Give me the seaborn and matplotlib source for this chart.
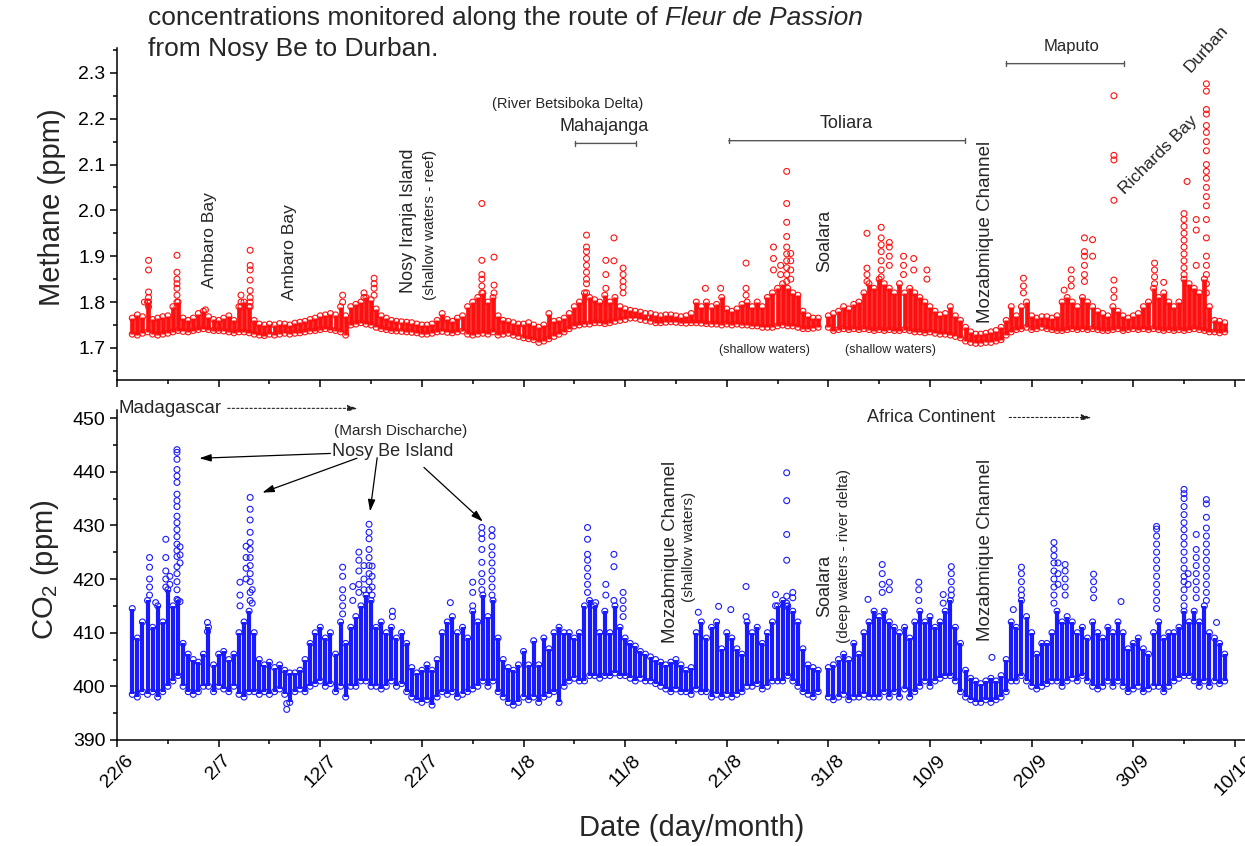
import numpy as np
import pandas as pd
import matplotlib
matplotlib.use("Agg")
import matplotlib.pyplot as plt
from matplotlib.ticker import MultipleLocator
import seaborn as sns

# x axis = days counted from 22 June
date_ticks = [0, 10, 20, 30, 40, 50, 60, 70, 80, 90, 100, 110]
date_labels = ["22/6", "2/7", "12/7", "22/7", "1/8", "11/8",
               "21/8", "31/8", "10/9", "20/9", "30/9", "10/10"]

# background band read every half day (day 1.5 ... 109.0), nan = no data
band_days = np.arange(1.5, 109.01, 0.5)

ch4_low = [
    1.730, 1.728, 1.732, 1.735, 1.730, 1.728, 1.730, 1.732, 1.735, 1.738,
    1.736, 1.735, 1.738, 1.740, 1.742, 1.740, 1.738, 1.738, 1.737, 1.735,
    1.733, 1.735, 1.735, 1.733, 1.730, 1.728, 1.727, 1.730, 1.728, 1.730,
    1.732, 1.730, 1.732, 1.733, 1.735, 1.737, 1.738, 1.740, 1.742, 1.740,
    1.738, 1.735, 1.728, 1.750, 1.752, 1.755, 1.752, 1.750, 1.745, 1.742,
    1.740, 1.738, 1.737, 1.736, 1.735, 1.734, 1.733, 1.730, 1.730, 1.732,
    1.735, 1.736, 1.734, 1.733, 1.735, 1.737, 1.730, 1.728, 1.730, 1.732,
    1.730, 1.735, 1.728, 1.730, 1.732, 1.728, 1.725, 1.722, 1.720, 1.718,
    1.712, 1.715, 1.720, 1.725, 1.730, 1.735, 1.742, 1.748, 1.750, 1.752,
    1.752, 1.755, 1.755, 1.753, 1.755, 1.758, 1.760, 1.762, 1.765, 1.765,
    1.762, 1.760, 1.758, 1.755, 1.755, 1.756, 1.757, 1.756, 1.755, 1.754,
    1.755, 1.755, 1.754, 1.753, 1.752, 1.752, 1.750, 1.752, 1.750, 1.752,
    1.750, 1.750, 1.748, 1.748, 1.745, 1.745, 1.745, 1.748, 1.750, 1.748,
    1.748, 1.745, 1.742, 1.742, 1.743, 1.745, np.nan, 1.745, 1.738, 1.740,
    1.742, 1.740, 1.742, 1.740, 1.742, 1.740, 1.738, 1.740, 1.738, 1.740,
    1.738, 1.738, 1.740, 1.738, 1.735, 1.735, 1.733, 1.735, 1.732, 1.730,
    1.730, 1.728, 1.725, 1.722, 1.715, 1.712, 1.710, 1.710, 1.712, 1.712,
    1.715, 1.718, 1.728, 1.735, 1.740, 1.742, 1.745, 1.740, 1.742, 1.745,
    1.742, 1.740, 1.738, 1.738, 1.740, 1.742, 1.740, 1.742, 1.740, 1.742,
    1.740, 1.738, 1.738, 1.740, 1.742, 1.738, 1.740, 1.742, 1.740, 1.742,
    1.740, 1.742, 1.740, 1.738, 1.740, 1.738, 1.740, 1.738, 1.740, 1.742,
    1.740, 1.738, 1.735, 1.735, 1.733, 1.735]
ch4_high = [
    1.765, 1.772, 1.768, 1.800, 1.762, 1.765, 1.768, 1.770, 1.790, 1.800,
    1.765, 1.760, 1.765, 1.775, 1.780, 1.768, 1.762, 1.760, 1.765, 1.770,
    1.760, 1.790, 1.800, 1.790, 1.760, 1.752, 1.750, 1.752, 1.750, 1.753,
    1.752, 1.750, 1.754, 1.756, 1.758, 1.762, 1.765, 1.770, 1.772, 1.775,
    1.772, 1.790, 1.770, 1.790, 1.795, 1.800, 1.810, 1.805, 1.785, 1.770,
    1.765, 1.760, 1.758, 1.757, 1.756, 1.755, 1.752, 1.750, 1.750, 1.752,
    1.760, 1.775, 1.762, 1.758, 1.765, 1.770, 1.790, 1.800, 1.810, 1.820,
    1.800, 1.810, 1.770, 1.760, 1.758, 1.755, 1.752, 1.752, 1.755, 1.750,
    1.745, 1.750, 1.775, 1.758, 1.760, 1.765, 1.775, 1.790, 1.800, 1.820,
    1.810, 1.805, 1.800, 1.815, 1.800, 1.810, 1.790, 1.785, 1.782, 1.780,
    1.778, 1.775, 1.775, 1.772, 1.770, 1.772, 1.772, 1.770, 1.768, 1.770,
    1.775, 1.800, 1.790, 1.800, 1.790, 1.795, 1.810, 1.785, 1.780, 1.785,
    1.795, 1.800, 1.790, 1.800, 1.790, 1.810, 1.820, 1.830, 1.840, 1.830,
    1.820, 1.815, 1.780, 1.770, 1.765, 1.765, np.nan, 1.770, 1.775, 1.780,
    1.790, 1.785, 1.795, 1.800, 1.820, 1.840, 1.830, 1.850, 1.840, 1.830,
    1.820, 1.840, 1.820, 1.830, 1.820, 1.810, 1.800, 1.790, 1.780, 1.772,
    1.775, 1.790, 1.770, 1.760, 1.745, 1.735, 1.730, 1.730, 1.732, 1.735,
    1.738, 1.745, 1.760, 1.790, 1.770, 1.790, 1.800, 1.770, 1.765, 1.768,
    1.768, 1.765, 1.770, 1.800, 1.810, 1.800, 1.790, 1.810, 1.800, 1.790,
    1.780, 1.775, 1.770, 1.790, 1.780, 1.770, 1.765, 1.770, 1.775, 1.790,
    1.800, 1.830, 1.810, 1.820, 1.800, 1.790, 1.800, 1.850, 1.840, 1.830,
    1.820, 1.850, 1.790, 1.760, 1.758, 1.755]

co2_low = [
    398.5, 398.0, 399, 398.5, 399, 398, 399, 400, 401, 402,
    400, 399, 398.5, 399, 400, 400, 399, 400, 399.5, 399,
    400, 398.5, 398, 399, 399, 398.5, 399, 398.5, 399, 399.5,
    398.5, 397, 399, 399.5, 399, 400, 400.5, 401, 400, 400.5,
    399, 400, 398, 400, 400, 401, 401, 400, 400, 399.5,
    400, 401, 400, 400.5, 399, 398, 397.5, 397, 397.5, 396.5,
    398, 399, 398.5, 399, 398, 398.5, 399, 399.5, 400, 401,
    400, 401, 399, 398, 397, 396.5, 397, 398, 397.5, 398,
    397, 398, 398.5, 399, 397, 400, 401, 401.5, 401, 401,
    402, 402, 401.5, 402, 402, 402.5, 402, 402, 401.5, 401,
    401.5, 401, 401, 400.5, 400, 399.5, 399, 399.5, 399, 399,
    398.5, 399.5, 399, 399, 398, 398.5, 398, 398.5, 398, 398.5,
    399, 400, 400, 400.5, 399.5, 400, 401, 401, 401, 402,
    401, 400, 399, 398.5, 398, 399, np.nan, 398, 397.5, 398,
    398.5, 397.5, 398, 398, 398.5, 398, 398, 398, 399, 398,
    399, 398, 399.5, 398, 399, 400, 401, 400, 401, 401.5,
    402, 402, 401, 399, 398, 397.5, 397, 397, 397.5, 397,
    397.5, 398, 399, 401, 401, 402, 401, 400, 399.5, 400,
    400.5, 401, 401, 400, 401, 401.5, 401, 402, 401, 400,
    399.5, 400, 401, 400, 401, 400, 399, 399.5, 400, 399,
    399.5, 400, 400, 399, 400, 401, 401.5, 402, 402, 401,
    400, 401, 400, 401, 400.5, 401]
co2_high = [
    414.5, 409, 412, 416, 411, 415, 412, 418, 415, 416,
    408, 406, 405, 404.5, 406, 411, 404, 406, 406.5, 405,
    406, 410, 412, 414, 410, 405, 404, 404.5, 403.5, 404,
    403, 402.5, 402.5, 403, 405, 408, 410, 411, 409, 410,
    406, 412, 408, 411, 413, 415, 417, 416, 411, 412,
    410, 411, 409, 410, 408, 403.5, 402.5, 403, 404, 403,
    405, 410, 412, 413, 410, 411, 409, 414, 412, 417,
    413, 416, 409, 405, 403.5, 403, 404, 406.5, 404, 408.5,
    404, 409, 407, 410, 411, 410, 410, 409, 410, 415,
    416, 415, 410, 414, 410, 415, 411, 409, 408, 407.5,
    406.5, 406, 405.5, 405, 404.5, 404, 404.5, 405, 404, 403,
    403.5, 410, 412, 409, 411, 412, 407, 410, 409, 407,
    406, 412, 410, 411, 408, 410, 412, 415, 416, 415,
    414, 412, 407, 404, 403.5, 403, np.nan, 403.5, 404, 405,
    406, 405, 408, 406, 410, 412, 414, 413, 414, 412,
    411, 410, 411, 409, 412, 414, 412, 413, 411, 412,
    414, 416, 411, 408, 403, 401.5, 401, 400.5, 401, 401.5,
    401, 402, 405, 412, 411, 416, 413, 410, 406, 408,
    408, 410, 414, 412, 413, 412, 410, 411, 409, 412,
    410, 409, 411, 410, 412, 410, 407, 408, 409, 407,
    406, 410, 412, 409, 410, 410, 411, 414, 412, 414,
    412, 415, 410, 409, 408, 406]

# isolated high readings (columns of points above the band)
ch4_peak_days = [2.7, 3.1, 5.9, 8.7, 12.2, 13.1, 22.2, 24.3, 25.3, 35.9,
                 37.1, 46.2, 48.1, 48.9, 49.8, 57.9, 59.4, 61.9, 64.6, 65.3,
                 65.9, 66.3, 73.8, 75.2, 76.0, 77.4, 78.4, 79.7, 89.2, 93.2,
                 93.9, 95.2, 96.0, 98.1, 102.1, 103.0, 105.0, 105.3, 106.2, 107.2]
ch4_peak_vals = [
    [1.80], [1.891, 1.870, 1.822, 1.81, 1.80, 1.79],
    [1.902, 1.865, 1.85, 1.84, 1.83, 1.815, 1.80, 1.79], [1.783],
    [1.815, 1.80, 1.79], [1.913, 1.88, 1.87, 1.848, 1.825, 1.81, 1.80, 1.79],
    [1.815, 1.80], [1.82, 1.81], [1.852, 1.84, 1.83, 1.815],
    [2.015, 1.891, 1.86, 1.85, 1.835, 1.82],
    [1.898, 1.837, 1.82], [1.946, 1.92, 1.91, 1.895, 1.88, 1.865, 1.85, 1.84, 1.82],
    [1.891, 1.86, 1.83], [1.94, 1.89], [1.874, 1.86, 1.845, 1.833, 1.82],
    [1.83], [1.83], [1.885, 1.83, 1.815], [1.92, 1.895, 1.87], [1.88, 1.86],
    [2.085, 2.015, 1.974, 1.943, 1.92, 1.905, 1.89, 1.875, 1.86, 1.845],
    [1.906, 1.89, 1.87, 1.85], [1.95, 1.874, 1.86, 1.845],
    [1.963, 1.94, 1.925, 1.91, 1.89, 1.87, 1.855], [1.93, 1.92, 1.90, 1.88],
    [1.90, 1.88, 1.86], [1.895, 1.87], [1.87, 1.85], [1.852, 1.835, 1.82],
    [1.826], [1.87, 1.85, 1.835], [1.94, 1.91, 1.90, 1.88, 1.86, 1.845],
    [1.936, 1.90], [2.250, 2.12, 2.11, 2.022, 1.848, 1.826, 1.81],
    [1.885, 1.87, 1.855, 1.84], [1.843],
    [1.993, 1.98, 1.965, 1.95, 1.935, 1.92, 1.905, 1.89, 1.875, 1.86],
    [2.063], [1.98, 1.957, 1.88],
    [2.276, 2.26, 2.22, 2.21, 2.185, 2.17, 2.15, 2.13, 2.10, 2.085, 2.07,
     2.05, 2.03, 2.01, 1.98, 1.94, 1.90, 1.88, 1.86, 1.84, 1.82]]

co2_peak_days = [3.2, 3.8, 4.8, 5.2, 5.9, 6.2, 8.9, 12.1, 12.7, 13.1,
                 13.3, 16.7, 22.2, 23.2, 23.8, 24.3, 24.8, 25.1, 27.1, 32.8,
                 35.0, 35.9, 36.9, 46.3, 47.1, 48.1, 48.9, 49.8, 57.2, 59.2,
                 60.4, 61.9, 64.8, 65.9, 66.5, 73.9, 75.3, 76.0, 78.9, 81.3,
                 82.1, 86.1, 88.2, 89.0, 92.2, 92.6, 93.3, 96.1, 98.8, 102.3,
                 105.0, 105.4, 106.2, 107.2, 108.2]
co2_peak_vals = [
    [424.0, 422.2, 420.0, 418.5, 417], [415.6],
    [427.4, 424.0, 421.5, 420, 418.5], [420.5, 419],
    [444.1, 443.6, 442.3, 440.4, 439.2, 438.0, 435.8, 434.6, 433.5, 431.7,
     430.5, 429.2, 427.9, 426.5, 425.3, 424.2, 422.3, 421, 419.5, 418, 416.2],
    [426, 424.5, 423, 415.8], [411.9, 410.2], [419.4, 417, 415],
    [426.1, 424, 422, 420],
    [435.2, 433.0, 431, 428.7, 426.8, 425.5, 424, 422.5, 421, 419.5, 417.5, 416],
    [418, 415.5], [395.7, 396.8],
    [422.2, 420.5, 418, 416.5, 415, 413.5], [418.6, 416],
    [425, 423.5, 421.5, 419, 417.5], [422.5, 420, 418],
    [430.2, 428.7, 427.5, 425.5, 424, 422.5, 421, 419.5, 418],
    [422.4, 420.5, 418.5, 417], [414, 413], [415.6],
    [419.4, 417.5, 415], [429.6, 428.5, 427.5, 425.5, 423.1, 421, 419.5, 418],
    [429.2, 428, 426, 424.5, 423, 421.5, 420, 418.5, 417],
    [429.6, 427.4, 424.6, 423.5, 422, 420.5, 419, 417.5], [415.6],
    [419, 417], [424.6, 422.3, 416], [417.5, 416, 414.5, 413],
    [413.8], [414.9], [414.3], [418.6, 413], [417.1, 415],
    [439.8, 434.6, 428.3, 423.5, 416.8, 415.5, 414.9], [417.5, 416.5],
    [416.2], [422.7, 421, 419, 417.5], [419.4, 418], [419.4, 418, 416],
    [417.1, 415.5], [422.3, 421, 419.5, 418, 417], [405.4], [414.3],
    [422.2, 421, 419.5, 418, 417],
    [426.8, 425.5, 424.3, 423, 421.5, 420, 418.5, 417, 415.5],
    [423, 421, 419], [422.7, 421.5, 420, 418.5, 417], [420.9, 419.5, 418, 416.5],
    [415.8],
    [429.8, 429.3, 428, 426.5, 425, 423.5, 422, 420.5, 419, 417.5, 416, 414.5],
    [436.7, 435.9, 435.0, 433.5, 432, 430.5, 429.2, 427.8, 426.5, 425, 423.5,
     422, 420.5, 419.5, 418, 416.5, 415],
    [421, 419], [428.3, 425.5, 424, 422.5, 421, 419.5, 418, 416.5],
    [434.8, 434, 431.5, 429.5, 428, 426.5, 425, 423.5, 422, 420.5, 419, 417.5, 416],
    [411.9]]

for arr in (ch4_low, ch4_high, co2_low, co2_high):
    assert len(arr) == len(band_days)
assert len(ch4_peak_days) == len(ch4_peak_vals)
assert len(co2_peak_days) == len(co2_peak_vals)

RED = "#ff1010"
BLUE = "#1a1aff"

sns.set_style("ticks")
plt.rcParams["font.family"] = ["Liberation Sans", "DejaVu Sans"]
plt.rcParams["mathtext.fontset"] = "custom"
plt.rcParams["mathtext.rm"] = "Liberation Sans"


def draw_series(ax, low, high, peak_days, peak_vals, color, band_lw):
    low = np.asarray(low, dtype=float)
    high = np.asarray(high, dtype=float)
    ok = ~np.isnan(low)
    ax.vlines(band_days[ok], low[ok], high[ok], color=color, lw=band_lw, zorder=2)
    xs = list(band_days[ok]) + list(band_days[ok])
    ys = list(low[ok]) + list(high[ok])
    for d, vals in zip(peak_days, peak_vals):
        xs += [d] * len(vals)
        ys += list(vals)
    pts = pd.DataFrame({"day": xs, "value": ys})
    sns.scatterplot(data=pts, x="day", y="value", ax=ax, marker="o", s=18,
                    facecolor="none", edgecolor=color, linewidth=0.8,
                    zorder=3, legend=False)


fig = plt.figure(figsize=(12.45, 8.46), dpi=100)
ax_ch4 = fig.add_axes([0.094, 0.5508, 0.906, 0.3924])
ax_co2 = fig.add_axes([0.094, 0.1253, 0.906, 0.3901])

draw_series(ax_ch4, ch4_low, ch4_high, ch4_peak_days, ch4_peak_vals, RED, 3.4)
draw_series(ax_co2, co2_low, co2_high, co2_peak_days, co2_peak_vals, BLUE, 3.0)

for ax in (ax_ch4, ax_co2):
    ax.set_xlim(0, 111)
    ax.set_xticks(date_ticks)
    ax.xaxis.set_minor_locator(MultipleLocator(5))
    sns.despine(ax=ax)
    for side in ("left", "bottom"):
        ax.spines[side].set_color("black")
        ax.spines[side].set_linewidth(1.1)
    ax.tick_params(which="major", direction="out", length=5, width=1.1,
                   color="black", labelsize=14, labelcolor="black")
    ax.tick_params(which="minor", direction="out", length=3, width=1.1,
                   color="black")
    ax.set_xlabel("")
    ax.set_ylabel("")

ax_ch4.set_ylim(1.63, 2.354)
ax_ch4.set_yticks([1.7, 1.8, 1.9, 2.0, 2.1, 2.2, 2.3])
ax_ch4.set_yticklabels(["1.7", "1.8", "1.9", "2.0", "2.1", "2.2", "2.3"])
ax_ch4.yaxis.set_minor_locator(MultipleLocator(0.05))
ax_ch4.tick_params(labelbottom=False)

ax_co2.set_ylim(390, 451.5)
ax_co2.set_yticks([390, 400, 410, 420, 430, 440, 450])
ax_co2.yaxis.set_minor_locator(MultipleLocator(5))
ax_co2.set_xticklabels(date_labels, rotation=45, ha="center")

W, H = 1245.0, 846.0
fig.text(52 / W, 1 - 207 / H, "Methane (ppm)", rotation=90, ha="center",
         va="center", fontsize=21)
fig.text(45 / W, 1 - 570 / H, r"CO$_\mathrm{2}$ (ppm)", rotation=90, ha="center",
         va="center", fontsize=21)
fig.text(692 / W, 1 - 828 / H, "Date (day/month)", ha="center", va="center",
         fontsize=21)

# caption fragment at the top
t1 = fig.text(148 / W, 1 - 18 / H, "concentrations monitored along the route of ",
              fontsize=19, va="center")
fig.text(148 / W, 1 - 49 / H, "from Nosy Be to Durban.", fontsize=19, va="center")
fig.canvas.draw()
bb = t1.get_window_extent()
fig.text(bb.x1 / fig.bbox.width, 1 - 18 / H, "Fleur de Passion", fontsize=19,
         va="center", style="italic")

# --- methane panel notes ---
ax_ch4.text(9.1, 1.830, "Ambaro Bay", rotation=90, ha="center", va="bottom", fontsize=12.5)
ax_ch4.text(17.0, 1.804, "Ambaro Bay", rotation=90, ha="center", va="bottom", fontsize=12.5)
ax_ch4.text(28.7, 1.820, "Nosy Iranja Island", rotation=90, ha="center", va="bottom",
            fontsize=13)
ax_ch4.text(30.8, 1.804, "(shallow waters - reef)", rotation=90, ha="center",
            va="bottom", fontsize=11)
ax_ch4.text(44.3, 2.233, "(River Betsiboka Delta)", ha="center", va="center", fontsize=10.5)
ax_ch4.text(47.9, 2.183, "Mahajanga", ha="center", va="center", fontsize=13)
ax_ch4.text(71.8, 2.189, "Toliara", ha="center", va="center", fontsize=13)
ax_ch4.text(93.9, 2.357, "Maputo", ha="center", va="center", fontsize=12)
ax_ch4.text(69.6, 1.933, "Soalara", rotation=90, ha="center", va="center", fontsize=13)
ax_ch4.text(85.5, 1.754, "Mozabmique Channel", rotation=90, ha="center", va="bottom",
            fontsize=13.5)
ax_ch4.text(102.5, 2.120, "Richards Bay", rotation=45, ha="center", va="center",
            fontsize=12.5)
ax_ch4.text(107.2, 2.352, "Durban", rotation=48, ha="center", va="center", fontsize=12.5)
ax_ch4.text(63.7, 1.696, "(shallow waters)", ha="center", va="center", fontsize=9)
ax_ch4.text(76.1, 1.696, "(shallow waters)", ha="center", va="center", fontsize=9)

bracket = dict(arrowstyle="|-|, widthA=0.2, widthB=0.2", color="#555555", lw=1,
               shrinkA=0, shrinkB=0)
ax_ch4.annotate("", xy=(51.1, 2.146), xytext=(45.1, 2.146), arrowprops=bracket)
ax_ch4.annotate("", xy=(83.4, 2.152), xytext=(60.2, 2.152), arrowprops=bracket)
ax_ch4.annotate("", xy=(99.1, 2.320), xytext=(87.5, 2.320), arrowprops=bracket,
                annotation_clip=False)

# --- CO2 panel notes ---
dotted = dict(arrowstyle="-|>, head_length=0.6, head_width=0.18", color="#222222",
              lw=0.8, linestyle=(0, (2, 2)), shrinkA=0, shrinkB=0)
ax_co2.text(0.1, 451.8, "Madagascar", ha="left", va="center", fontsize=13.5)
ax_co2.annotate("", xy=(23.7, 451.8), xytext=(10.9, 451.8), arrowprops=dotted,
                annotation_clip=False)
ax_co2.text(73.8, 450.1, "Africa Continent", ha="left", va="center", fontsize=13)
ax_co2.annotate("", xy=(95.9, 450.1), xytext=(87.8, 450.1), arrowprops=dotted,
                annotation_clip=False)

ax_co2.text(27.9, 447.5, "(Marsh Discharche)", ha="center", va="center", fontsize=11)
ax_co2.text(27.1, 443.8, "Nosy Be Island", ha="center", va="center", fontsize=13)
solid = dict(arrowstyle="-|>, head_length=0.7, head_width=0.22", color="black",
             lw=0.9, shrinkA=0, shrinkB=0)
for tail, head in [((21.0, 443.4), (8.1, 442.5)),
                   ((23.6, 442.5), (14.3, 436.1)),
                   ((25.6, 442.6), (24.9, 432.6)),
                   ((30.2, 440.8), (36.0, 430.7))]:
    ax_co2.annotate("", xy=head, xytext=tail, arrowprops=solid)

ax_co2.text(54.5, 425.1, "Mozabmique Channel", rotation=90, ha="center", va="center",
            fontsize=13.5)
ax_co2.text(56.3, 425.9, "(shallow waters)", rotation=90, ha="center", va="center",
            fontsize=11)
ax_co2.text(69.6, 418.8, "Soalara", rotation=90, ha="center", va="center", fontsize=13)
ax_co2.text(71.5, 424.2, "(deep waters - river delta)", rotation=90, ha="center",
            va="center", fontsize=11)
ax_co2.text(85.5, 425.5, "Mozabmique Channel", rotation=90, ha="center", va="center",
            fontsize=13.5)

fig.savefig("out.png", dpi=100, facecolor="white")
